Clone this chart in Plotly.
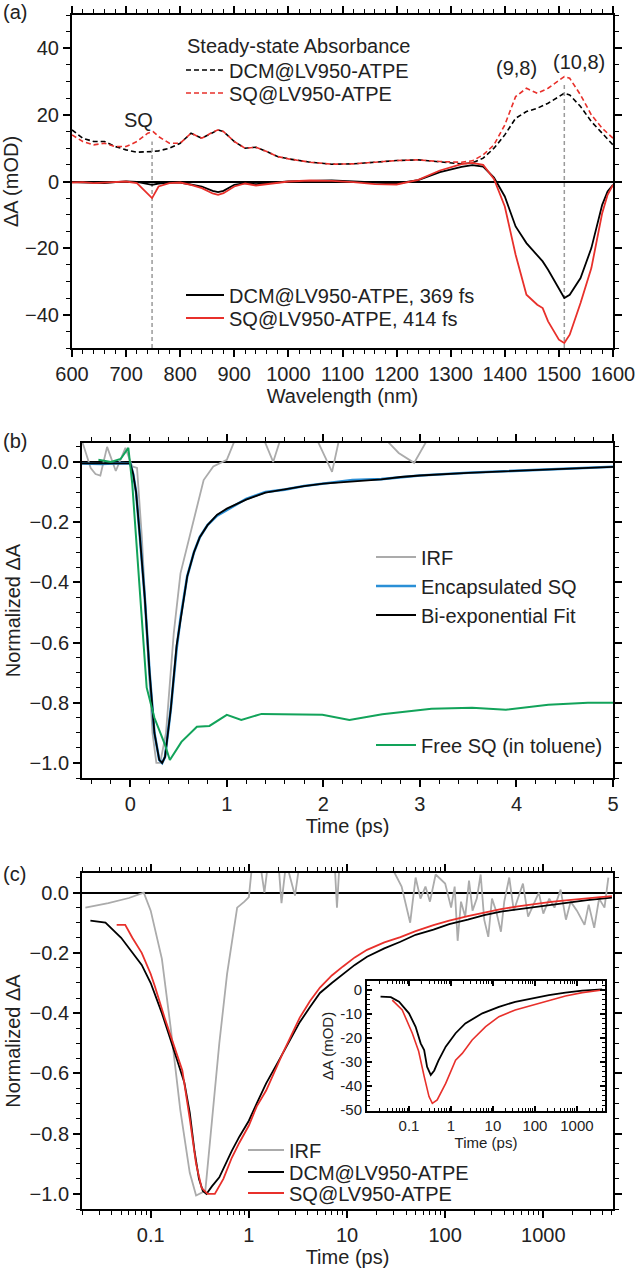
import plotly.graph_objects as go

# ---------------- Panel (a) data ----------------
wl_ss = [600, 620, 640, 660, 680, 700, 720, 740, 750, 760, 780, 800, 820, 840, 860, 870, 880, 900,
         920, 940, 960, 980, 1000, 1040, 1080, 1120, 1160, 1200, 1240, 1280, 1320, 1340, 1360, 1380,
         1400, 1420, 1440, 1460, 1480, 1500, 1510, 1520, 1540, 1560, 1580, 1600]
ss_dcm = [15.5, 13, 12, 12, 10.5, 9.5, 8.8, 8.8, 9, 9.2, 10, 11.5, 14.5, 13, 14.8, 15.5, 15, 12,
          10, 10.3, 9, 7.5, 6.8, 5.8, 5.2, 5.3, 5.8, 6.3, 6.5, 5.8, 5.3, 5.6, 7, 10,
          14, 19, 21, 22, 23.5, 25.5, 26.5, 26, 22.5, 18, 14.5, 11]
ss_sq = [14, 12, 11, 11.5, 10.5, 10.5, 12, 14.5, 15, 13.5, 11.5, 11.5, 14.5, 13, 14.8, 15.5, 15, 12,
         10, 10.3, 9, 7.5, 6.8, 5.8, 5.2, 5.3, 5.8, 6.3, 6.5, 6, 5.8, 6.2, 8, 11,
         17, 25.5, 28, 26.5, 28, 30.5, 31.5, 31, 26, 20, 16, 13]

wl_ta = [600, 620, 640, 660, 680, 700, 720, 740, 748, 760, 780, 800, 820, 840, 860, 870, 880, 900,
         920, 940, 960, 980, 1000, 1040, 1080, 1120, 1160, 1200, 1240, 1280, 1320, 1340, 1360, 1380,
         1400, 1420, 1440, 1460, 1470, 1480, 1500, 1510, 1520, 1540, 1560, 1580, 1590, 1600]
ta_dcm = [-0.2, -0.3, -0.2, -0.5, -0.2, 0, -0.1, -0.8, -1.0, -0.6, -0.3, -0.3, -0.8, -1.5, -2.8, -3.2, -2.8, -1.0,
          -0.5, -0.8, -0.5, -0.2, 0, 0.2, 0.3, 0, -0.4, -0.6, 0.4, 2.8, 4.4, 4.9, 4.5, 1.2,
          -4.5, -13.5, -18.5, -22, -24, -26.5, -32, -35, -34, -29, -20, -7, -3, -1]
ta_sq = [-0.3, -0.2, -0.5, -0.3, 0, 0, -0.5, -3.5, -5, -1.5, -0.5, -0.3, -1, -2, -3.6, -4, -3.5, -1.5,
         -0.6, -1.2, -0.8, -0.3, 0, 0.3, 0.2, -0.2, -0.8, -0.9, 0.5, 3.3, 5.2, 5.6, 5.0, 0.8,
         -7.5, -22, -34, -37, -38, -42, -47.5, -48.5, -46, -36.5, -26, -9.5, -4, -1]

marker_wl = [748, 1510]
marker_top = [12, 29]
marker_bottom = [-50, -50]

# ---------------- Panel (b) data ----------------
t_irf_b = [-0.5, -0.47, -0.41, -0.36, -0.31, -0.24, -0.15, -0.05, 0.02, 0.07, 0.12, 0.18, 0.23, 0.27, 0.31,
           0.37, 0.45, 0.52, 0.64, 0.76, 0.86, 1.0, 1.08, 1.39, 1.48, 1.55, 1.94, 2.09, 2.16, 2.66, 2.78,
           2.94, 3.07, 3.5, 4.0, 5.0]
irf_b = [0.07, 0.04, -0.02, -0.04, -0.045, 0.05, -0.03, 0.047, -0.015, -0.02, -0.25, -0.62, -0.9, -1.0, -1.0,
         -0.9, -0.57, -0.37, -0.22, -0.06, -0.015, 0.007, 0.07, 0.07, 0.0, 0.07, 0.07, -0.033, 0.07, 0.07, 0.03,
         -0.003, 0.07, 0.1, 0.12, 0.1]

t_enc = [-0.5, -0.3, -0.1, 0.0, 0.03, 0.06, 0.1, 0.15, 0.2, 0.25, 0.3, 0.33, 0.36, 0.42, 0.48, 0.52, 0.59,
         0.66, 0.72, 0.8, 0.9, 1.0, 1.2, 1.4, 1.6, 1.8, 2.0, 2.3, 2.6, 2.8, 3.0, 3.5, 4.0, 4.5, 5.0]
enc_sq = [-0.005, -0.007, -0.004, -0.005, -0.04, -0.1, -0.25, -0.45, -0.7, -0.9, -0.99, -1.0, -0.98, -0.82,
          -0.62, -0.52, -0.38, -0.3, -0.25, -0.21, -0.178, -0.16, -0.123, -0.1, -0.092, -0.08, -0.073, -0.06,
          -0.057, -0.05, -0.045, -0.036, -0.029, -0.023, -0.016]
fit_sq = [-0.005, -0.006, -0.005, -0.005, -0.04, -0.1, -0.25, -0.45, -0.7, -0.9, -0.99, -1.0, -0.98, -0.82,
          -0.61, -0.52, -0.38, -0.3, -0.25, -0.21, -0.175, -0.155, -0.125, -0.102, -0.09, -0.08, -0.072, -0.064,
          -0.058, -0.05, -0.045, -0.036, -0.03, -0.023, -0.016]

t_free = [-0.33, -0.2, -0.1, -0.02, 0.02, 0.08, 0.14, 0.17, 0.25, 0.36, 0.41, 0.53, 0.69, 0.82, 1.0, 1.15,
          1.36, 1.75, 1.99, 2.27, 2.61, 3.12, 3.54, 3.89, 4.33, 4.74, 5.0]
free_sq = [0.007, 0.0, 0.01, 0.047, -0.07, -0.35, -0.62, -0.75, -0.85, -0.94, -0.99, -0.93, -0.88, -0.877,
           -0.84, -0.857, -0.837, -0.84, -0.84, -0.857, -0.838, -0.82, -0.817, -0.823, -0.807, -0.8, -0.8]

# ---------------- Panel (c) data ----------------
t_irf_c = [0.0216, 0.037, 0.06, 0.085, 0.1, 0.13, 0.16, 0.2, 0.25, 0.29, 0.36, 0.42, 0.5, 0.6, 0.76, 0.9,
           1.0, 1.07, 1.3, 1.44, 1.6, 2.0, 2.15, 2.4, 2.95, 3.3, 5, 7.5, 7.9, 8.4, 15, 25, 30, 36, 44, 50,
           56, 63, 70, 80, 100, 115, 125, 134, 145, 160, 175, 190, 210, 230, 250, 275, 300, 330, 370, 400,
           450, 500, 560, 620, 700, 800, 900, 1000, 1150, 1300, 1500, 1700, 1900, 2200, 2630, 2900, 3300,
           3700, 4200, 4600]
irf_c = [-0.05, -0.035, -0.018, 0.0, -0.06, -0.22, -0.45, -0.72, -0.93, -1.005, -0.99, -0.75, -0.5, -0.27,
         -0.05, -0.03, -0.015, 0.08, 0.1, 0.0, 0.12, 0.1, -0.035, 0.1, -0.01, 0.1, 0.12, 0.09, -0.05, 0.1,
         0.12, 0.1, 0.07, 0.02, -0.1, 0.05, -0.02, 0.02, -0.03, 0.06, 0.03, -0.05, 0.02, -0.16, -0.03, -0.08,
         0.04, -0.06, -0.02, 0.06, -0.09, -0.147, -0.02, -0.06, -0.13, -0.03, 0.05, -0.06, -0.01, 0.03, -0.08,
         -0.035, 0.0, -0.07, -0.02, -0.05, 0.01, -0.09, -0.03, -0.06, -0.107, -0.04, -0.117, -0.02, -0.05, 0.05]

t_dcm = [0.0243, 0.0346, 0.05, 0.07, 0.081, 0.1, 0.13, 0.16, 0.19, 0.22, 0.25, 0.28, 0.31, 0.34, 0.37, 0.42,
         0.5, 0.6, 0.67, 0.8, 1.0, 1.2, 1.5, 2.0, 2.5, 3.3, 4.2, 5.3, 7, 9.1, 12, 16, 24, 35, 50, 76, 110,
         170, 250, 370, 550, 800, 1200, 1800, 2800, 3800, 5000]
dcm_norm = [-0.093, -0.1, -0.15, -0.21, -0.24, -0.3, -0.4, -0.49, -0.57, -0.63, -0.73, -0.86, -0.95, -0.99,
            -1.0, -0.975, -0.945, -0.89, -0.857, -0.81, -0.757, -0.7, -0.633, -0.56, -0.5, -0.43, -0.38, -0.333,
            -0.3, -0.27, -0.24, -0.213, -0.185, -0.163, -0.14, -0.123, -0.105, -0.09, -0.075, -0.063, -0.055,
            -0.047, -0.04, -0.033, -0.025, -0.02, -0.017]

t_sq = [0.045, 0.055, 0.065, 0.081, 0.1, 0.11, 0.14, 0.18, 0.21, 0.25, 0.29, 0.33, 0.38, 0.45, 0.55, 0.67,
        0.8, 1.0, 1.2, 1.5, 2.2, 3.3, 4.2, 5.3, 7, 9.1, 12, 16, 24, 35, 50, 76, 110, 170, 250, 370, 550, 800,
        1200, 1800, 2800, 3800, 5000]
sq_norm = [-0.107, -0.107, -0.15, -0.2, -0.27, -0.31, -0.42, -0.53, -0.59, -0.75, -0.9, -0.98, -1.0, -1.0,
           -0.95, -0.88, -0.83, -0.773, -0.71, -0.657, -0.535, -0.415, -0.36, -0.315, -0.275, -0.245, -0.215,
           -0.19, -0.165, -0.148, -0.128, -0.108, -0.093, -0.078, -0.066, -0.055, -0.046, -0.038, -0.031,
           -0.025, -0.018, -0.015, -0.012]

# ---------------- Inset data (mOD) ----------------
t_dcm_in = [0.021, 0.037, 0.058, 0.1, 0.144, 0.19, 0.23, 0.27, 0.33, 0.4, 0.5, 0.75, 1.29, 2.2, 5.6,
            13.9, 34, 87, 215, 535, 1340, 4000]
dcm_mod = [-2.8, -3.0, -4.9, -9.7, -15.3, -22.2, -25, -32, -35.4, -33.5, -29.5, -23.6, -18, -13.9, -9.7,
           -7, -4.9, -3.5, -2.1, -1.1, -0.3, 0.3]
t_sq_in = [0.04, 0.069, 0.12, 0.17, 0.23, 0.3, 0.36, 0.47, 0.75, 1.29, 1.86, 3.2, 6.7, 13.9, 34, 87, 215,
           535, 1340, 4000]
sq_mod = [-4.2, -8.3, -18, -25.5, -36, -44.4, -47.2, -45.8, -38.9, -29.2, -26.4, -20.8, -15.3, -11.1, -8.3,
          -6.25, -4.2, -2.5, -1.1, 0]

log_tickvals = [0.1, 1, 10, 100, 1000]
log_ticktext = ["0.1", "1", "10", "100", "1000"]
inset_yvals = [0, -10, -20, -30, -40, -50]
inset_ytext = ["0", "-10", "-20", "-30", "-40", "-50"]

# ---------------- Figure ----------------
W, H = 635, 1270
RED = "#e8302b"
BLUE = "#2a8fd6"
GREEN = "#12a35a"
GRAY = "#ababab"
FONT = "Liberation Sans, Arial, Helvetica, sans-serif"
TXT = "#222222"
FS = 20
FS_IN = 15


def fx(p):
    return p / W


def fy(p):
    return 1 - p / H


fig = go.Figure()

# panel (a)
fig.add_trace(go.Scatter(x=wl_ss, y=ss_dcm, mode="lines", name="DCM@LV950-ATPE",
                         line=dict(color="black", width=1.6, dash="5px,3px"),
                         xaxis="x", yaxis="y", legend="legend"))
fig.add_trace(go.Scatter(x=wl_ss, y=ss_sq, mode="lines", name="SQ@LV950-ATPE",
                         line=dict(color=RED, width=1.6, dash="5px,3px"),
                         xaxis="x", yaxis="y", legend="legend2"))
mk_x, mk_y = [], []
for w, top, bot in zip(marker_wl, marker_top, marker_bottom):
    mk_x += [w, w, None]
    mk_y += [bot, top, None]
fig.add_trace(go.Scatter(x=mk_x, y=mk_y, mode="lines", showlegend=False,
                         line=dict(color="#9a9a9a", width=1.5, dash="4px,3px"),
                         xaxis="x", yaxis="y"))
fig.add_trace(go.Scatter(x=wl_ta, y=ta_dcm, mode="lines", name="DCM@LV950-ATPE, 369 fs",
                         line=dict(color="black", width=1.8), xaxis="x", yaxis="y", legend="legend3"))
fig.add_trace(go.Scatter(x=wl_ta, y=ta_sq, mode="lines", name="SQ@LV950-ATPE, 414 fs",
                         line=dict(color=RED, width=1.8), xaxis="x", yaxis="y", legend="legend4"))

# panel (b)
fig.add_trace(go.Scatter(x=t_irf_b, y=irf_b, mode="lines", name="IRF",
                         line=dict(color=GRAY, width=1.8), xaxis="x2", yaxis="y2", legend="legend5"))
fig.add_trace(go.Scatter(x=t_enc, y=enc_sq, mode="lines", name="Encapsulated SQ",
                         line=dict(color=BLUE, width=2.6), xaxis="x2", yaxis="y2", legend="legend6"))
fig.add_trace(go.Scatter(x=t_enc, y=fit_sq, mode="lines", name="Bi-exponential Fit",
                         line=dict(color="black", width=1.8), xaxis="x2", yaxis="y2", legend="legend7"))
fig.add_trace(go.Scatter(x=t_free, y=free_sq, mode="lines", name="Free SQ (in toluene)",
                         line=dict(color=GREEN, width=2.0), xaxis="x2", yaxis="y2", legend="legend8"))

# panel (c)
fig.add_trace(go.Scatter(x=t_irf_c, y=irf_c, mode="lines", name="IRF",
                         line=dict(color=GRAY, width=1.8), xaxis="x3", yaxis="y3", legend="legend9"))
fig.add_trace(go.Scatter(x=t_dcm, y=dcm_norm, mode="lines", name="DCM@LV950-ATPE",
                         line=dict(color="black", width=1.8), xaxis="x3", yaxis="y3", legend="legend10"))
fig.add_trace(go.Scatter(x=t_sq, y=sq_norm, mode="lines", name="SQ@LV950-ATPE",
                         line=dict(color=RED, width=1.8), xaxis="x3", yaxis="y3", legend="legend11"))

# inset
fig.add_trace(go.Scatter(x=t_dcm_in, y=dcm_mod, mode="lines", showlegend=False,
                         line=dict(color="black", width=1.8), xaxis="x4", yaxis="y4"))
fig.add_trace(go.Scatter(x=t_sq_in, y=sq_mod, mode="lines", showlegend=False,
                         line=dict(color=RED, width=1.6), xaxis="x4", yaxis="y4"))

minor_log = [k * 10 ** e for e in range(-2, 4) for k in range(2, 10)]


def ax(**kw):
    base = dict(showline=True, linecolor="black", linewidth=2, mirror="allticks", ticks="outside",
                ticklen=7, tickwidth=1.5, tickcolor="black", showgrid=False, zeroline=False,
                automargin=False, ticklabeloverflow="allow",
                tickfont=dict(size=FS, color=TXT, family=FONT),
                title_font=dict(size=FS, color=TXT, family=FONT))
    base.update(kw)
    return base


minor_out = dict(ticks="outside", ticklen=4, tickwidth=1.2, tickcolor="black")
fin = dict(size=FS_IN, color=TXT, family=FONT)

fig.update_layout(
    template="none",
    width=W, height=H, margin=dict(l=0, r=0, t=0, b=0, autoexpand=False),
    paper_bgcolor="white", plot_bgcolor="white",
    font=dict(family=FONT, size=FS, color=TXT),
    xaxis=ax(domain=[fx(72), fx(613)], range=[600, 1600], dtick=100, anchor="y",
             minor=dict(dtick=20, **minor_out),
             title=dict(text="Wavelength (nm)", standoff=2)),
    yaxis=ax(domain=[fy(348), fy(15)], range=[-50, 50], dtick=20, anchor="x",
             minor=dict(dtick=5, **minor_out), zeroline=True, zerolinecolor="black", zerolinewidth=1.5,
             title=dict(text="ΔA (mOD)", standoff=4)),
    xaxis2=ax(domain=[fx(82), fx(613)], range=[-0.5, 5], dtick=1, anchor="y2",
              minor=dict(dtick=0.2, **minor_out),
              title=dict(text="Time (ps)", standoff=2)),
    yaxis2=ax(domain=[fy(778), fy(443)], range=[-1.05, 0.063], dtick=0.2, tickformat=".1f", anchor="x2",
              minor=dict(dtick=0.05, **minor_out), zeroline=True, zerolinecolor="black", zerolinewidth=1.5,
              title=dict(text="Normalized ΔA", standoff=4)),
    xaxis3=ax(domain=[fx(82), fx(613)], type="log", range=[-1.7, 3.71], tickvals=log_tickvals,
              ticktext=log_ticktext, anchor="y3",
              minor=dict(tickvals=minor_log, **minor_out),
              title=dict(text="Time (ps)", standoff=2)),
    yaxis3=ax(domain=[fy(1209), fy(873)], range=[-1.05, 0.065], dtick=0.2, tickformat=".1f", anchor="x3",
              minor=dict(dtick=0.05, **minor_out), zeroline=True, zerolinecolor="black", zerolinewidth=1.5,
              title=dict(text="Normalized ΔA", standoff=4)),
    xaxis4=ax(domain=[fx(367), fx(605)], type="log", range=[-2, 3.67], tickvals=log_tickvals,
              ticktext=log_ticktext, anchor="y4", ticks="inside", ticklen=5, tickfont=fin,
              minor=dict(tickvals=minor_log, ticks="inside", ticklen=3, tickwidth=1, tickcolor="black"),
              title=dict(text="Time (ps)", standoff=2, font=fin)),
    yaxis4=ax(domain=[fy(1111), fy(981)], range=[-50.4, 3.75], tickvals=inset_yvals, ticktext=inset_ytext,
              anchor="x4", ticks="inside", ticklen=5, tickfont=fin,
              minor=dict(dtick=2, ticks="inside", ticklen=3, tickwidth=1, tickcolor="black"),
              title=dict(text="ΔA (mOD)", standoff=3, font=fin)),
)

leg_common = dict(bgcolor="rgba(0,0,0,0)", borderwidth=0, xanchor="left", yanchor="middle",
                  font=dict(size=FS, color=TXT, family=FONT))
legend_rows = {
    "legend": (181, 70, 38), "legend2": (181, 93, 38),
    "legend3": (181, 295, 38), "legend4": (181, 318, 38),
    "legend5": (371, 557, 40), "legend6": (371, 586, 40), "legend7": (371, 615, 40), "legend8": (371, 745, 40),
    "legend9": (243, 1150, 36), "legend10": (243, 1172, 36), "legend11": (243, 1193, 36),
}
fig.update_layout(**{k: dict(x=fx(px), y=fy(py), itemwidth=iw, **leg_common)
                     for k, (px, py, iw) in legend_rows.items()})

txtfont = dict(size=FS, color=TXT, family=FONT)
annos = [
    dict(text="(a)", x=fx(1), y=fy(12), xanchor="left", yanchor="middle"),
    dict(text="(b)", x=fx(1), y=fy(441), xanchor="left", yanchor="middle"),
    dict(text="(c)", x=fx(1), y=fy(874), xanchor="left", yanchor="middle"),
    dict(text="Steady-state Absorbance", x=fx(185), y=fy(46), xanchor="left", yanchor="middle"),
]
for a in annos:
    a.update(xref="paper", yref="paper", showarrow=False, font=txtfont)
fig.update_layout(annotations=annos)
fig.add_annotation(text="SQ", x=722, y=18.5, xref="x", yref="y", showarrow=False, font=txtfont)
fig.add_annotation(text="(9,8)", x=1422, y=34, xref="x", yref="y", showarrow=False, font=txtfont)
fig.add_annotation(text="(10,8)", x=1537, y=36, xref="x", yref="y", showarrow=False, font=txtfont)

fig.write_html("out.html", config={"displayModeBar": False},
               post_script="document.body.style.margin='0px';")
